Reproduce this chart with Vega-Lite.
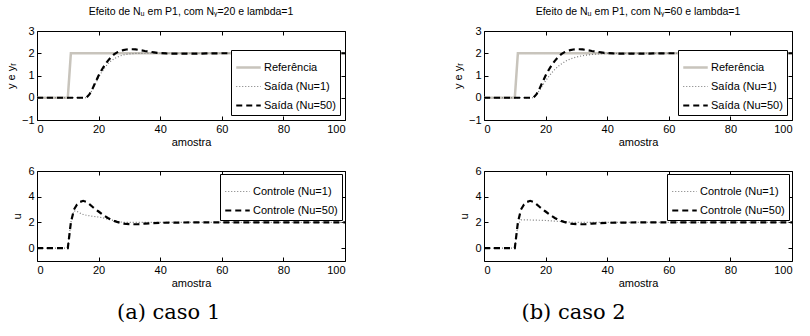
{
  "$schema": "https://vega.github.io/schema/vega-lite/v6.json",
  "background": "white",
  "padding": {"left": 4, "top": 6, "right": 5, "bottom": 5},
  "resolve": {"scale": {"color": "independent", "strokeDash": "independent"}, "legend": {"color": "independent", "strokeDash": "independent"}},
  "config": {
    "view": {"stroke": "black", "strokeWidth": 1},
    "font": "Liberation Sans",
    "axis": {"domain": false, "grid": false, "tickSize": -4, "tickColor": "black", "labelPadding": 7, "labelFontSize": 11, "labelColor": "black", "titleFontSize": 11, "titleFontWeight": "normal", "titleColor": "black", "labelFont": "Liberation Sans", "titleFont": "Liberation Sans"},
    "legend": {"strokeColor": "black", "fillColor": "white", "padding": 4, "labelFont": "Liberation Sans", "labelFontSize": 11, "labelColor": "black", "symbolType": "stroke", "symbolSize": 600, "rowPadding": -6, "labelOffset": 2, "cornerRadius": 0},
    "title": {"fontSize": 10.5, "fontWeight": "normal", "font": "Liberation Sans", "color": "black"},
    "concat": {"spacing": 102}
  },
  "datasets": {
    "t1": [
      {"k":0,"v":0,"s":"Referência"},{"k":10,"v":0,"s":"Referência"},{"k":11,"v":2,"s":"Referência"},{"k":100,"v":2,"s":"Referência"},
      {"k":0,"v":0,"s":"Saída (Nu=1)"},{"k":16,"v":0,"s":"Saída (Nu=1)"},{"k":17,"v":0.13,"s":"Saída (Nu=1)"},{"k":18,"v":0.37,"s":"Saída (Nu=1)"},{"k":19,"v":0.65,"s":"Saída (Nu=1)"},{"k":20,"v":0.92,"s":"Saída (Nu=1)"},{"k":21,"v":1.15,"s":"Saída (Nu=1)"},{"k":22,"v":1.35,"s":"Saída (Nu=1)"},{"k":23,"v":1.52,"s":"Saída (Nu=1)"},{"k":24,"v":1.65,"s":"Saída (Nu=1)"},{"k":25,"v":1.75,"s":"Saída (Nu=1)"},{"k":26,"v":1.82,"s":"Saída (Nu=1)"},{"k":27,"v":1.88,"s":"Saída (Nu=1)"},{"k":28,"v":1.92,"s":"Saída (Nu=1)"},{"k":29,"v":1.95,"s":"Saída (Nu=1)"},{"k":30,"v":1.97,"s":"Saída (Nu=1)"},{"k":32,"v":1.99,"s":"Saída (Nu=1)"},{"k":35,"v":2,"s":"Saída (Nu=1)"},{"k":100,"v":2,"s":"Saída (Nu=1)"},
      {"k":0,"v":0,"s":"Saída (Nu=50)"},{"k":16,"v":0,"s":"Saída (Nu=50)"},{"k":17,"v":0.15,"s":"Saída (Nu=50)"},{"k":18,"v":0.4,"s":"Saída (Nu=50)"},{"k":19,"v":0.7,"s":"Saída (Nu=50)"},{"k":20,"v":1.0,"s":"Saída (Nu=50)"},{"k":21,"v":1.25,"s":"Saída (Nu=50)"},{"k":22,"v":1.47,"s":"Saída (Nu=50)"},{"k":23,"v":1.66,"s":"Saída (Nu=50)"},{"k":24,"v":1.82,"s":"Saída (Nu=50)"},{"k":25,"v":1.95,"s":"Saída (Nu=50)"},{"k":26,"v":2.04,"s":"Saída (Nu=50)"},{"k":27,"v":2.1,"s":"Saída (Nu=50)"},{"k":28,"v":2.14,"s":"Saída (Nu=50)"},{"k":29,"v":2.17,"s":"Saída (Nu=50)"},{"k":30,"v":2.18,"s":"Saída (Nu=50)"},{"k":31,"v":2.18,"s":"Saída (Nu=50)"},{"k":32,"v":2.17,"s":"Saída (Nu=50)"},{"k":33,"v":2.15,"s":"Saída (Nu=50)"},{"k":34,"v":2.13,"s":"Saída (Nu=50)"},{"k":35,"v":2.1,"s":"Saída (Nu=50)"},{"k":36,"v":2.08,"s":"Saída (Nu=50)"},{"k":37,"v":2.06,"s":"Saída (Nu=50)"},{"k":38,"v":2.04,"s":"Saída (Nu=50)"},{"k":39,"v":2.02,"s":"Saída (Nu=50)"},{"k":40,"v":2.01,"s":"Saída (Nu=50)"},{"k":42,"v":1.99,"s":"Saída (Nu=50)"},{"k":45,"v":1.98,"s":"Saída (Nu=50)"},{"k":50,"v":1.98,"s":"Saída (Nu=50)"},{"k":55,"v":1.99,"s":"Saída (Nu=50)"},{"k":60,"v":2,"s":"Saída (Nu=50)"},{"k":100,"v":2,"s":"Saída (Nu=50)"}
    ],
    "t2": [
      {"k":0,"v":0,"s":"Referência"},{"k":10,"v":0,"s":"Referência"},{"k":11,"v":2,"s":"Referência"},{"k":100,"v":2,"s":"Referência"},
      {"k":0,"v":0,"s":"Saída (Nu=1)"},{"k":16,"v":0,"s":"Saída (Nu=1)"},{"k":17,"v":0.12,"s":"Saída (Nu=1)"},{"k":18,"v":0.33,"s":"Saída (Nu=1)"},{"k":19,"v":0.55,"s":"Saída (Nu=1)"},{"k":20,"v":0.76,"s":"Saída (Nu=1)"},{"k":21,"v":0.95,"s":"Saída (Nu=1)"},{"k":22,"v":1.12,"s":"Saída (Nu=1)"},{"k":23,"v":1.27,"s":"Saída (Nu=1)"},{"k":24,"v":1.4,"s":"Saída (Nu=1)"},{"k":25,"v":1.51,"s":"Saída (Nu=1)"},{"k":26,"v":1.6,"s":"Saída (Nu=1)"},{"k":27,"v":1.68,"s":"Saída (Nu=1)"},{"k":28,"v":1.74,"s":"Saída (Nu=1)"},{"k":29,"v":1.79,"s":"Saída (Nu=1)"},{"k":30,"v":1.83,"s":"Saída (Nu=1)"},{"k":32,"v":1.89,"s":"Saída (Nu=1)"},{"k":34,"v":1.93,"s":"Saída (Nu=1)"},{"k":36,"v":1.96,"s":"Saída (Nu=1)"},{"k":38,"v":1.98,"s":"Saída (Nu=1)"},{"k":40,"v":1.99,"s":"Saída (Nu=1)"},{"k":45,"v":2,"s":"Saída (Nu=1)"},{"k":100,"v":2,"s":"Saída (Nu=1)"},
      {"k":0,"v":0,"s":"Saída (Nu=50)"},{"k":16,"v":0,"s":"Saída (Nu=50)"},{"k":17,"v":0.15,"s":"Saída (Nu=50)"},{"k":18,"v":0.4,"s":"Saída (Nu=50)"},{"k":19,"v":0.7,"s":"Saída (Nu=50)"},{"k":20,"v":1.0,"s":"Saída (Nu=50)"},{"k":21,"v":1.25,"s":"Saída (Nu=50)"},{"k":22,"v":1.47,"s":"Saída (Nu=50)"},{"k":23,"v":1.66,"s":"Saída (Nu=50)"},{"k":24,"v":1.82,"s":"Saída (Nu=50)"},{"k":25,"v":1.95,"s":"Saída (Nu=50)"},{"k":26,"v":2.04,"s":"Saída (Nu=50)"},{"k":27,"v":2.1,"s":"Saída (Nu=50)"},{"k":28,"v":2.14,"s":"Saída (Nu=50)"},{"k":29,"v":2.17,"s":"Saída (Nu=50)"},{"k":30,"v":2.18,"s":"Saída (Nu=50)"},{"k":31,"v":2.18,"s":"Saída (Nu=50)"},{"k":32,"v":2.17,"s":"Saída (Nu=50)"},{"k":33,"v":2.15,"s":"Saída (Nu=50)"},{"k":34,"v":2.13,"s":"Saída (Nu=50)"},{"k":35,"v":2.1,"s":"Saída (Nu=50)"},{"k":36,"v":2.08,"s":"Saída (Nu=50)"},{"k":37,"v":2.06,"s":"Saída (Nu=50)"},{"k":38,"v":2.04,"s":"Saída (Nu=50)"},{"k":39,"v":2.02,"s":"Saída (Nu=50)"},{"k":40,"v":2.01,"s":"Saída (Nu=50)"},{"k":42,"v":1.99,"s":"Saída (Nu=50)"},{"k":45,"v":1.98,"s":"Saída (Nu=50)"},{"k":50,"v":1.98,"s":"Saída (Nu=50)"},{"k":55,"v":1.99,"s":"Saída (Nu=50)"},{"k":60,"v":2,"s":"Saída (Nu=50)"},{"k":100,"v":2,"s":"Saída (Nu=50)"}
    ],
    "b1": [
      {"k":0,"v":0,"s":"Controle (Nu=1)"},{"k":10,"v":0,"s":"Controle (Nu=1)"},{"k":11,"v":2.0,"s":"Controle (Nu=1)"},{"k":12,"v":2.9,"s":"Controle (Nu=1)"},{"k":13,"v":2.85,"s":"Controle (Nu=1)"},{"k":14,"v":2.72,"s":"Controle (Nu=1)"},{"k":15,"v":2.62,"s":"Controle (Nu=1)"},{"k":16,"v":2.56,"s":"Controle (Nu=1)"},{"k":17,"v":2.52,"s":"Controle (Nu=1)"},{"k":18,"v":2.48,"s":"Controle (Nu=1)"},{"k":19,"v":2.45,"s":"Controle (Nu=1)"},{"k":20,"v":2.42,"s":"Controle (Nu=1)"},{"k":21,"v":2.38,"s":"Controle (Nu=1)"},{"k":22,"v":2.32,"s":"Controle (Nu=1)"},{"k":23,"v":2.26,"s":"Controle (Nu=1)"},{"k":24,"v":2.2,"s":"Controle (Nu=1)"},{"k":25,"v":2.14,"s":"Controle (Nu=1)"},{"k":26,"v":2.08,"s":"Controle (Nu=1)"},{"k":27,"v":2.04,"s":"Controle (Nu=1)"},{"k":28,"v":2.01,"s":"Controle (Nu=1)"},{"k":30,"v":2.0,"s":"Controle (Nu=1)"},{"k":100,"v":2.0,"s":"Controle (Nu=1)"},
      {"k":0,"v":0,"s":"Controle (Nu=50)"},{"k":10,"v":0,"s":"Controle (Nu=50)"},{"k":11,"v":2.0,"s":"Controle (Nu=50)"},{"k":12,"v":3.0,"s":"Controle (Nu=50)"},{"k":13,"v":3.4,"s":"Controle (Nu=50)"},{"k":14,"v":3.6,"s":"Controle (Nu=50)"},{"k":15,"v":3.68,"s":"Controle (Nu=50)"},{"k":16,"v":3.6,"s":"Controle (Nu=50)"},{"k":17,"v":3.42,"s":"Controle (Nu=50)"},{"k":18,"v":3.22,"s":"Controle (Nu=50)"},{"k":19,"v":3.03,"s":"Controle (Nu=50)"},{"k":20,"v":2.85,"s":"Controle (Nu=50)"},{"k":21,"v":2.67,"s":"Controle (Nu=50)"},{"k":22,"v":2.5,"s":"Controle (Nu=50)"},{"k":23,"v":2.35,"s":"Controle (Nu=50)"},{"k":24,"v":2.22,"s":"Controle (Nu=50)"},{"k":25,"v":2.12,"s":"Controle (Nu=50)"},{"k":26,"v":2.04,"s":"Controle (Nu=50)"},{"k":27,"v":1.97,"s":"Controle (Nu=50)"},{"k":28,"v":1.91,"s":"Controle (Nu=50)"},{"k":29,"v":1.88,"s":"Controle (Nu=50)"},{"k":30,"v":1.87,"s":"Controle (Nu=50)"},{"k":31,"v":1.86,"s":"Controle (Nu=50)"},{"k":32,"v":1.86,"s":"Controle (Nu=50)"},{"k":33,"v":1.87,"s":"Controle (Nu=50)"},{"k":34,"v":1.89,"s":"Controle (Nu=50)"},{"k":35,"v":1.91,"s":"Controle (Nu=50)"},{"k":37,"v":1.94,"s":"Controle (Nu=50)"},{"k":40,"v":1.97,"s":"Controle (Nu=50)"},{"k":45,"v":1.99,"s":"Controle (Nu=50)"},{"k":50,"v":2.0,"s":"Controle (Nu=50)"},{"k":100,"v":2.0,"s":"Controle (Nu=50)"}
    ],
    "b2": [
      {"k":0,"v":0,"s":"Controle (Nu=1)"},{"k":10,"v":0,"s":"Controle (Nu=1)"},{"k":11,"v":1.8,"s":"Controle (Nu=1)"},{"k":12,"v":2.2,"s":"Controle (Nu=1)"},{"k":13,"v":2.2,"s":"Controle (Nu=1)"},{"k":15,"v":2.19,"s":"Controle (Nu=1)"},{"k":18,"v":2.17,"s":"Controle (Nu=1)"},{"k":20,"v":2.15,"s":"Controle (Nu=1)"},{"k":22,"v":2.12,"s":"Controle (Nu=1)"},{"k":25,"v":2.07,"s":"Controle (Nu=1)"},{"k":28,"v":2.02,"s":"Controle (Nu=1)"},{"k":30,"v":2.0,"s":"Controle (Nu=1)"},{"k":100,"v":2.0,"s":"Controle (Nu=1)"},
      {"k":0,"v":0,"s":"Controle (Nu=50)"},{"k":10,"v":0,"s":"Controle (Nu=50)"},{"k":11,"v":2.0,"s":"Controle (Nu=50)"},{"k":12,"v":3.0,"s":"Controle (Nu=50)"},{"k":13,"v":3.4,"s":"Controle (Nu=50)"},{"k":14,"v":3.6,"s":"Controle (Nu=50)"},{"k":15,"v":3.68,"s":"Controle (Nu=50)"},{"k":16,"v":3.6,"s":"Controle (Nu=50)"},{"k":17,"v":3.42,"s":"Controle (Nu=50)"},{"k":18,"v":3.22,"s":"Controle (Nu=50)"},{"k":19,"v":3.03,"s":"Controle (Nu=50)"},{"k":20,"v":2.85,"s":"Controle (Nu=50)"},{"k":21,"v":2.67,"s":"Controle (Nu=50)"},{"k":22,"v":2.5,"s":"Controle (Nu=50)"},{"k":23,"v":2.35,"s":"Controle (Nu=50)"},{"k":24,"v":2.22,"s":"Controle (Nu=50)"},{"k":25,"v":2.12,"s":"Controle (Nu=50)"},{"k":26,"v":2.04,"s":"Controle (Nu=50)"},{"k":27,"v":1.97,"s":"Controle (Nu=50)"},{"k":28,"v":1.91,"s":"Controle (Nu=50)"},{"k":29,"v":1.88,"s":"Controle (Nu=50)"},{"k":30,"v":1.87,"s":"Controle (Nu=50)"},{"k":31,"v":1.86,"s":"Controle (Nu=50)"},{"k":32,"v":1.86,"s":"Controle (Nu=50)"},{"k":33,"v":1.87,"s":"Controle (Nu=50)"},{"k":34,"v":1.89,"s":"Controle (Nu=50)"},{"k":35,"v":1.91,"s":"Controle (Nu=50)"},{"k":37,"v":1.94,"s":"Controle (Nu=50)"},{"k":40,"v":1.97,"s":"Controle (Nu=50)"},{"k":45,"v":1.99,"s":"Controle (Nu=50)"},{"k":50,"v":2.0,"s":"Controle (Nu=50)"},{"k":100,"v":2.0,"s":"Controle (Nu=50)"}
    ]
  },
  "hconcat": [
    {
      "title": {"text": "(a) caso 1", "orient": "bottom", "font": "DejaVu Serif", "fontSize": 21, "offset": 13, "anchor": "middle", "frame": "bounds", "dx": -8},
      "spacing": 16,
      "resolve": {"scale": {"color": "independent", "strokeDash": "independent"}, "legend": {"color": "independent", "strokeDash": "independent"}},
      "vconcat": [
        {
          "width": 308, "height": 89,
          "title": {"text": "Efeito de Nᵤ em P1, com Nᵧ=20 e lambda=1", "frame": "group", "offset": 8},
          "data": {"name": "t1"},
          "layer": [
            {"mark": {"type": "line", "strokeCap": "butt", "clip": true},
             "encoding": {
               "x": {"field": "k", "type": "quantitative", "scale": {"domain": [0, 100], "nice": false}, "axis": {"values": [0, 20, 40, 60, 80, 100], "title": "amostra", "titlePadding": 2}},
               "y": {"field": "v", "type": "quantitative", "scale": {"domain": [-1, 3], "nice": false}, "axis": {"values": [-1, 0, 1, 2, 3], "title": "y e yᵣ", "titlePadding": 5}},
               "color": {"field": "s", "type": "nominal", "scale": {"domain": ["Referência", "Saída (Nu=1)", "Saída (Nu=50)"], "range": ["#c8c4bc", "#7a7a7a", "#000000"]}, "legend": {"title": null, "orient": "bottom-right", "offset": 5, "encode": {"symbols": {"update": {"strokeWidth": {"signal": "(datum.value === 'Referência' ? 2.5 : (datum.value === 'Saída (Nu=1)' ? 1.2 : 2.2))"}}}}}},
               "strokeDash": {"field": "s", "type": "nominal", "scale": {"domain": ["Referência", "Saída (Nu=1)", "Saída (Nu=50)"], "range": [[1, 0], [1, 2], [6, 4]]}, "legend": {"title": null}},
               "strokeWidth": {"condition": [{"test": "datum.s === 'Referência'", "value": 2.5}, {"test": "datum.s === 'Saída (Nu=1)'", "value": 1.2}], "value": 2.2}
             }},
            {"mark": {"type": "point", "opacity": 0},
             "encoding": {
               "x": {"field": "k", "type": "quantitative", "axis": {"orient": "top", "values": [0, 20, 40, 60, 80, 100], "labels": false, "title": null}},
               "y": {"field": "v", "type": "quantitative", "axis": {"orient": "right", "values": [-1, 0, 1, 2, 3], "labels": false, "title": null}}
             }}
          ],
          "resolve": {"axis": {"x": "independent", "y": "independent"}}
        },
        {
          "width": 308, "height": 90,
          "data": {"name": "b1"},
          "layer": [
            {"mark": {"type": "line", "strokeCap": "butt", "clip": true},
             "encoding": {
               "x": {"field": "k", "type": "quantitative", "scale": {"domain": [0, 100], "nice": false}, "axis": {"values": [0, 20, 40, 60, 80, 100], "title": "amostra", "titlePadding": 2}},
               "y": {"field": "v", "type": "quantitative", "scale": {"domain": [-1, 6], "nice": false}, "axis": {"values": [0, 2, 4, 6], "title": "u", "titlePadding": 5}},
               "color": {"field": "s", "type": "nominal", "scale": {"domain": ["Controle (Nu=1)", "Controle (Nu=50)"], "range": ["#7a7a7a", "#000000"]}, "legend": {"title": null, "orient": "top-right", "offset": 3, "encode": {"symbols": {"update": {"strokeWidth": {"signal": "(datum.value === 'Controle (Nu=1)' ? 1.2 : 2.2)"}}}}}},
               "strokeDash": {"field": "s", "type": "nominal", "scale": {"domain": ["Controle (Nu=1)", "Controle (Nu=50)"], "range": [[1, 2], [6, 4]]}, "legend": {"title": null}},
               "strokeWidth": {"condition": {"test": "datum.s === 'Controle (Nu=1)'", "value": 1.2}, "value": 2.2}
             }},
            {"mark": {"type": "point", "opacity": 0},
             "encoding": {
               "x": {"field": "k", "type": "quantitative", "axis": {"orient": "top", "values": [0, 20, 40, 60, 80, 100], "labels": false, "title": null}},
               "y": {"field": "v", "type": "quantitative", "axis": {"orient": "right", "values": [0, 2, 4, 6], "labels": false, "title": null}}
             }}
          ],
          "resolve": {"axis": {"x": "independent", "y": "independent"}}
        }
      ]
    },
    {
      "title": {"text": "(b) caso 2", "orient": "bottom", "font": "DejaVu Serif", "fontSize": 21, "offset": 13, "anchor": "middle", "frame": "bounds", "dx": -50},
      "spacing": 16,
      "resolve": {"scale": {"color": "independent", "strokeDash": "independent"}, "legend": {"color": "independent", "strokeDash": "independent"}},
      "vconcat": [
        {
          "width": 308, "height": 89,
          "title": {"text": "Efeito de Nᵤ em P1, com Nᵧ=60 e lambda=1", "frame": "group", "offset": 8},
          "data": {"name": "t2"},
          "layer": [
            {"mark": {"type": "line", "strokeCap": "butt", "clip": true},
             "encoding": {
               "x": {"field": "k", "type": "quantitative", "scale": {"domain": [0, 100], "nice": false}, "axis": {"values": [0, 20, 40, 60, 80, 100], "title": "amostra", "titlePadding": 2}},
               "y": {"field": "v", "type": "quantitative", "scale": {"domain": [-1, 3], "nice": false}, "axis": {"values": [-1, 0, 1, 2, 3], "title": "y e yᵣ", "titlePadding": 5}},
               "color": {"field": "s", "type": "nominal", "scale": {"domain": ["Referência", "Saída (Nu=1)", "Saída (Nu=50)"], "range": ["#c8c4bc", "#7a7a7a", "#000000"]}, "legend": {"title": null, "orient": "bottom-right", "offset": 5, "encode": {"symbols": {"update": {"strokeWidth": {"signal": "(datum.value === 'Referência' ? 2.5 : (datum.value === 'Saída (Nu=1)' ? 1.2 : 2.2))"}}}}}},
               "strokeDash": {"field": "s", "type": "nominal", "scale": {"domain": ["Referência", "Saída (Nu=1)", "Saída (Nu=50)"], "range": [[1, 0], [1, 2], [6, 4]]}, "legend": {"title": null}},
               "strokeWidth": {"condition": [{"test": "datum.s === 'Referência'", "value": 2.5}, {"test": "datum.s === 'Saída (Nu=1)'", "value": 1.2}], "value": 2.2}
             }},
            {"mark": {"type": "point", "opacity": 0},
             "encoding": {
               "x": {"field": "k", "type": "quantitative", "axis": {"orient": "top", "values": [0, 20, 40, 60, 80, 100], "labels": false, "title": null}},
               "y": {"field": "v", "type": "quantitative", "axis": {"orient": "right", "values": [-1, 0, 1, 2, 3], "labels": false, "title": null}}
             }}
          ],
          "resolve": {"axis": {"x": "independent", "y": "independent"}}
        },
        {
          "width": 308, "height": 90,
          "data": {"name": "b2"},
          "layer": [
            {"mark": {"type": "line", "strokeCap": "butt", "clip": true},
             "encoding": {
               "x": {"field": "k", "type": "quantitative", "scale": {"domain": [0, 100], "nice": false}, "axis": {"values": [0, 20, 40, 60, 80, 100], "title": "amostra", "titlePadding": 2}},
               "y": {"field": "v", "type": "quantitative", "scale": {"domain": [-1, 6], "nice": false}, "axis": {"values": [0, 2, 4, 6], "title": "u", "titlePadding": 5}},
               "color": {"field": "s", "type": "nominal", "scale": {"domain": ["Controle (Nu=1)", "Controle (Nu=50)"], "range": ["#7a7a7a", "#000000"]}, "legend": {"title": null, "orient": "top-right", "offset": 3, "encode": {"symbols": {"update": {"strokeWidth": {"signal": "(datum.value === 'Controle (Nu=1)' ? 1.2 : 2.2)"}}}}}},
               "strokeDash": {"field": "s", "type": "nominal", "scale": {"domain": ["Controle (Nu=1)", "Controle (Nu=50)"], "range": [[1, 2], [6, 4]]}, "legend": {"title": null}},
               "strokeWidth": {"condition": {"test": "datum.s === 'Controle (Nu=1)'", "value": 1.2}, "value": 2.2}
             }},
            {"mark": {"type": "point", "opacity": 0},
             "encoding": {
               "x": {"field": "k", "type": "quantitative", "axis": {"orient": "top", "values": [0, 20, 40, 60, 80, 100], "labels": false, "title": null}},
               "y": {"field": "v", "type": "quantitative", "axis": {"orient": "right", "values": [0, 2, 4, 6], "labels": false, "title": null}}
             }}
          ],
          "resolve": {"axis": {"x": "independent", "y": "independent"}}
        }
      ]
    }
  ]
}
